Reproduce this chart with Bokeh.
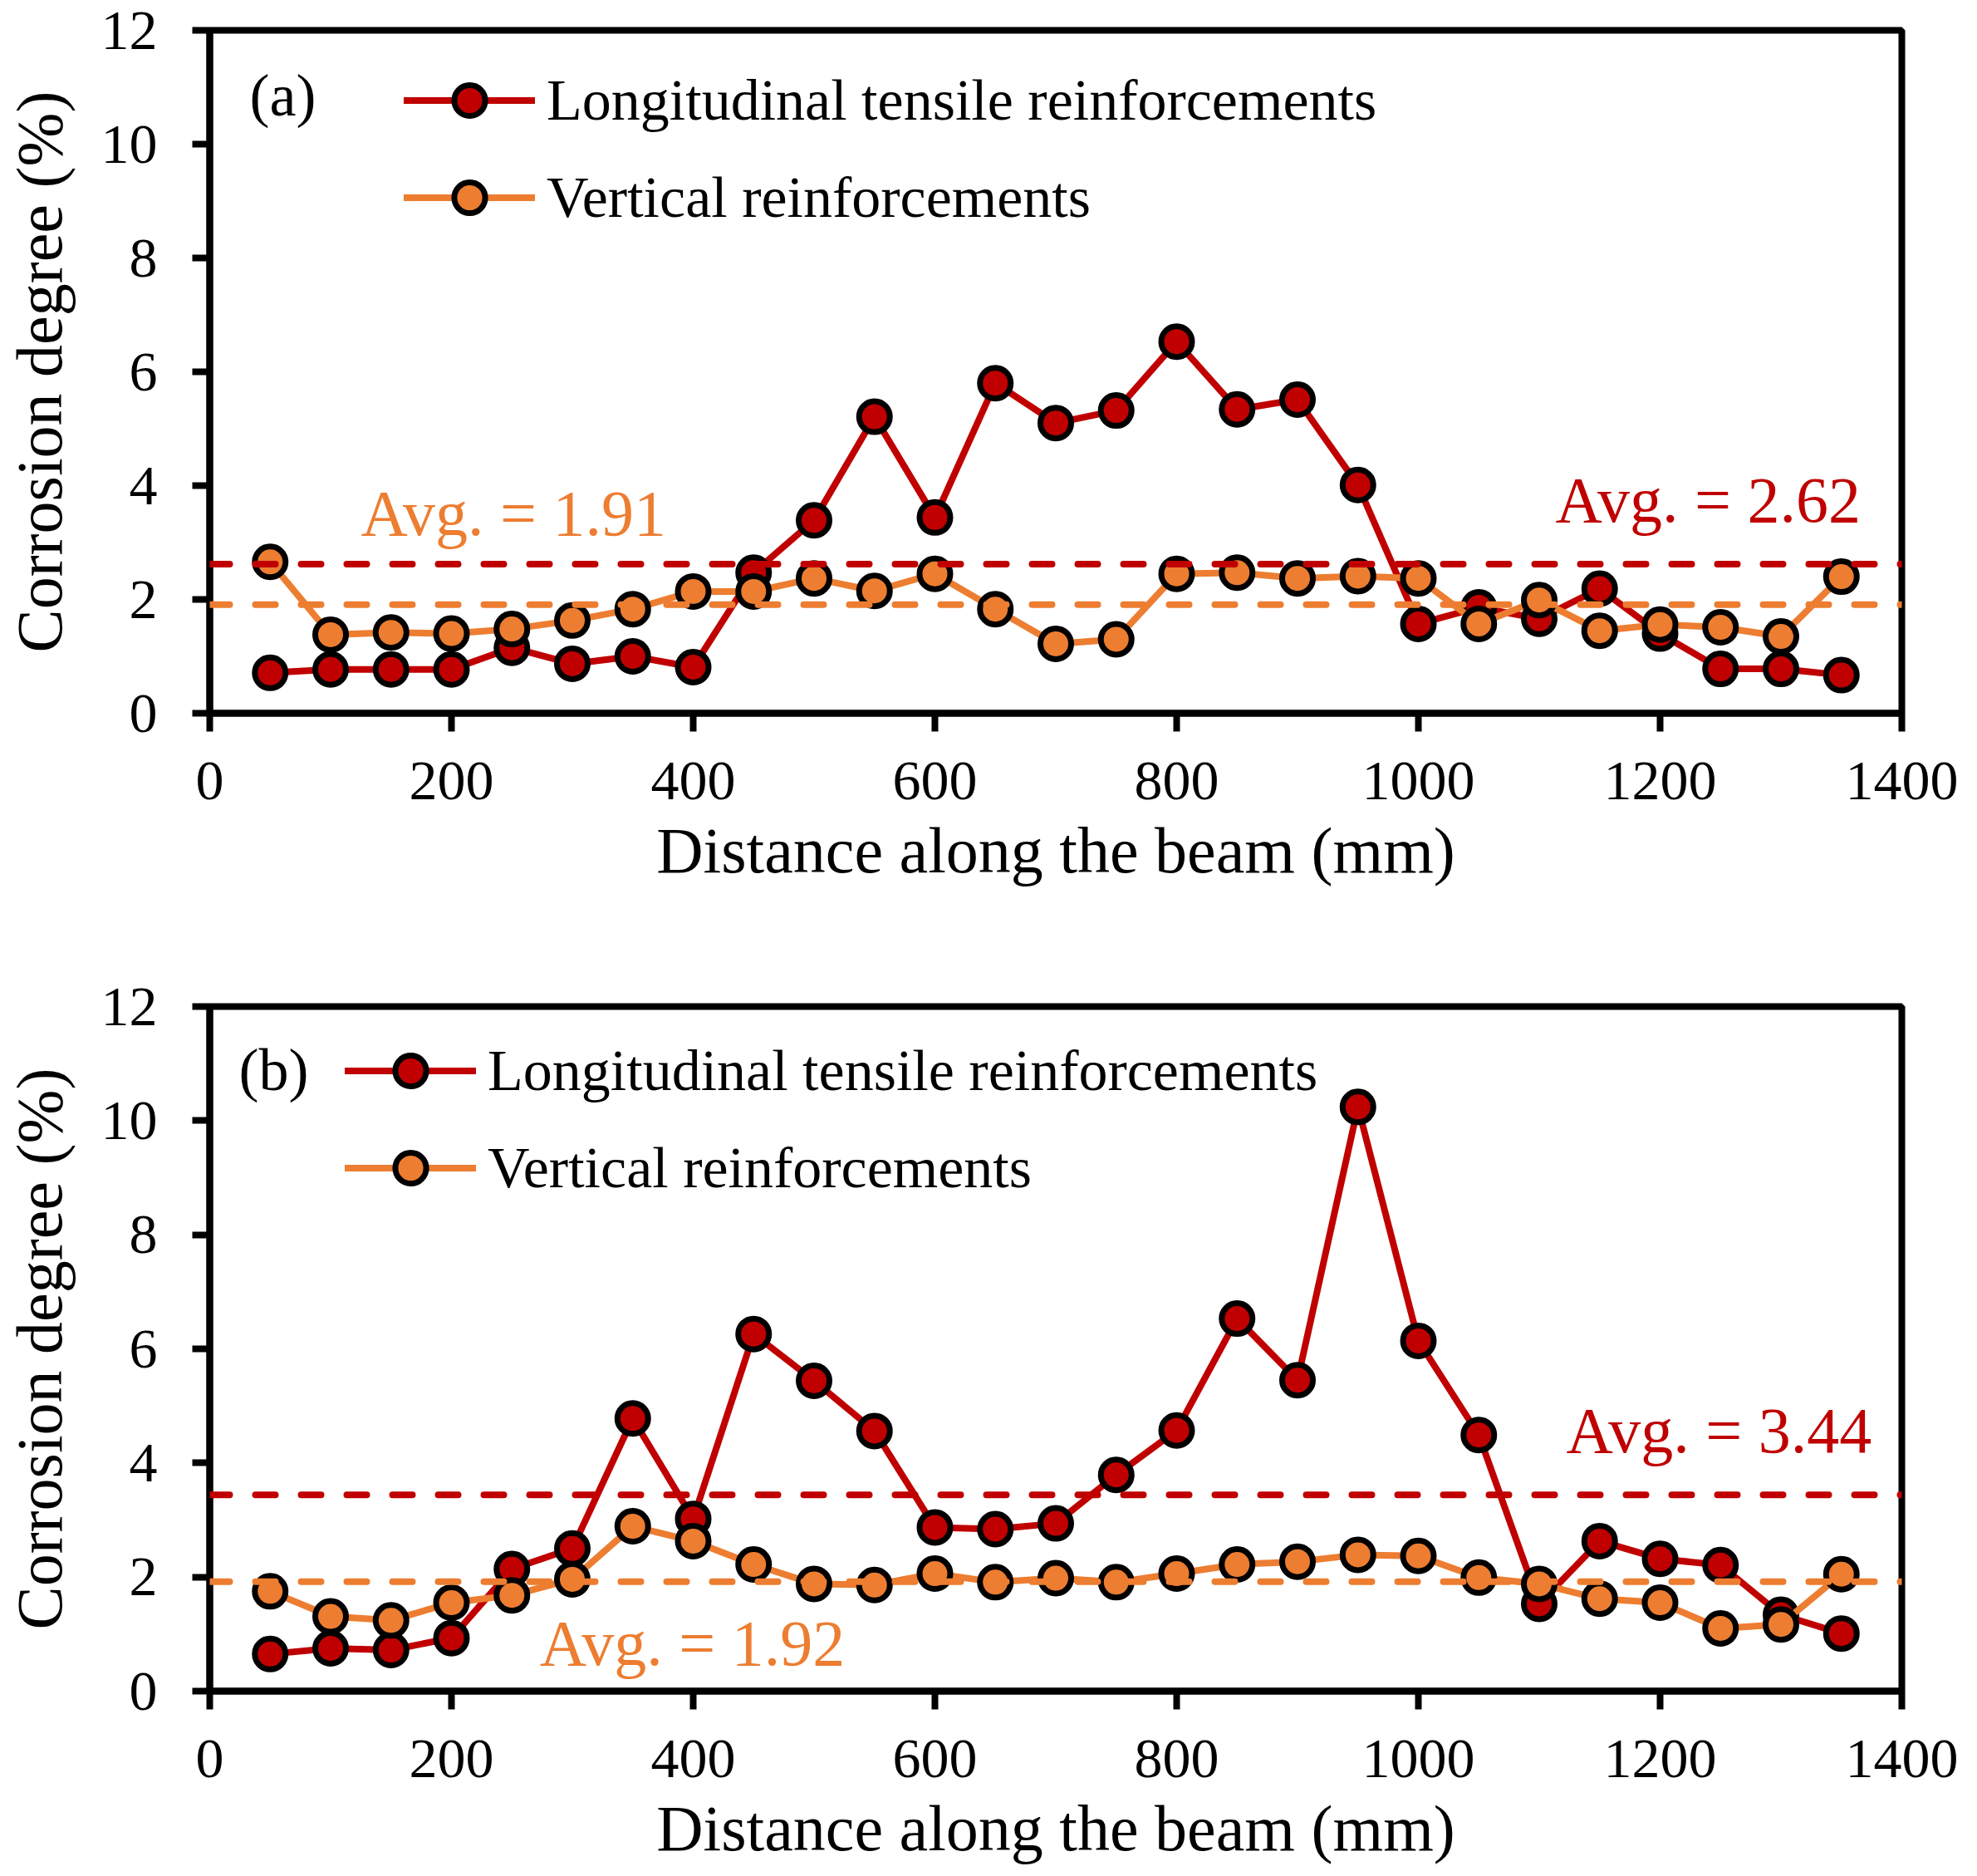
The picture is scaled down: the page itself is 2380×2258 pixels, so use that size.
from bokeh.plotting import figure
from bokeh.models import Span, Legend, LegendItem, FixedTicker, Range1d, Label
from bokeh.layouts import column
from bokeh.embed import file_html
from bokeh.resources import INLINE

# ---------------- data ----------------
distance = [50, 100, 150, 200, 250, 300, 350, 400, 450, 500, 550, 600, 650, 700,
            750, 800, 850, 900, 950, 1000, 1050, 1100, 1150, 1200, 1250, 1300, 1350]

a_longitudinal = [0.71, 0.77, 0.77, 0.77, 1.15, 0.87, 1.00, 0.81, 2.47, 3.39, 5.21, 3.44, 5.80, 5.10,
                  5.32, 6.53, 5.34, 5.51, 4.01, 1.57, 1.86, 1.66, 2.19, 1.40, 0.78, 0.78, 0.67]
a_vertical = [2.66, 1.38, 1.42, 1.40, 1.48, 1.63, 1.83, 2.14, 2.14, 2.37, 2.15, 2.45, 1.83, 1.22,
              1.30, 2.45, 2.47, 2.37, 2.41, 2.37, 1.57, 1.99, 1.45, 1.56, 1.51, 1.35, 2.40]

b_longitudinal = [0.65, 0.75, 0.72, 0.93, 2.14, 2.50, 4.78, 3.02, 6.26, 5.44, 4.56, 2.87, 2.84, 2.94,
                  3.79, 4.57, 6.53, 5.45, 10.24, 6.14, 4.49, 1.53, 2.63, 2.32, 2.21, 1.34, 1.01]
b_vertical = [1.75, 1.31, 1.24, 1.55, 1.68, 1.96, 2.89, 2.63, 2.22, 1.88, 1.86, 2.06, 1.91, 1.98,
              1.91, 2.06, 2.22, 2.27, 2.39, 2.37, 1.99, 1.88, 1.62, 1.55, 1.10, 1.17, 2.05]

avg_a = [2.62, 1.91]   # longitudinal, vertical
avg_b = [3.44, 1.92]

x_ticks = [0, 200, 400, 600, 800, 1000, 1200, 1400]
y_ticks = [0, 2, 4, 6, 8, 10, 12]

series_names = ["Longitudinal tensile reinforcements", "Vertical reinforcements"]
panel_tags = ["(a)", "(b)"]

RED = "#C00000"
ORANGE = "#ED7D31"
FONT = "Liberation Serif"


def make_panel(long_vals, vert_vals, avgs, tag, tag_xy, avg_long_xy, avg_vert_xy,
               legend_loc, border_top, frame_h, border_bottom):
    p = figure(frame_width=2037, frame_height=frame_h,
               x_range=Range1d(0, 1400), y_range=Range1d(0, 12),
               output_backend="svg", toolbar_location=None,
               min_border_left=249, min_border_right=90,
               min_border_top=border_top, min_border_bottom=border_bottom,
               background_fill_color="white", border_fill_color="white")
    p.grid.visible = False
    p.outline_line_color = "black"
    p.outline_line_width = 8
    p.outline_line_alpha = 1.0

    p.xaxis.ticker = FixedTicker(ticks=x_ticks)
    p.yaxis.ticker = FixedTicker(ticks=y_ticks)
    for ax in (p.xaxis, p.yaxis):
        ax.axis_line_width = 8
        ax.axis_line_color = "black"
        ax.major_tick_line_width = 8
        ax.major_tick_line_color = "black"
        ax.major_tick_in = 0
        ax.minor_tick_line_color = None
        ax.major_label_text_font = FONT
        ax.major_label_text_font_size = "68px"
        ax.major_label_text_color = "black"
        ax.axis_label_text_font = FONT
        ax.axis_label_text_font_size = "78px"
        ax.axis_label_text_font_style = "normal"
        ax.axis_label_text_color = "black"
    p.xaxis.major_tick_out = 22
    p.yaxis.major_tick_out = 21
    p.xaxis.major_label_standoff = 37
    p.yaxis.major_label_standoff = 42
    p.xaxis.axis_label = "Distance along the beam (mm)"
    p.yaxis.axis_label = "Corrosion degree (%)"
    p.xaxis.axis_label_standoff = 15
    p.yaxis.axis_label_standoff = 28

    l1 = p.line(distance, long_vals, line_color=RED, line_width=8,
                line_join="round", line_cap="round")
    s1 = p.scatter(distance, long_vals, size=37, fill_color=RED,
                   line_color="black", line_width=7)
    l2 = p.line(distance, vert_vals, line_color=ORANGE, line_width=8,
                line_join="round", line_cap="round")
    s2 = p.scatter(distance, vert_vals, size=37, fill_color=ORANGE,
                   line_color="black", line_width=7)

    p.add_layout(Span(location=avgs[0], dimension="width", line_color=RED,
                      line_width=8, line_dash="24 31", line_cap="round"))
    p.add_layout(Span(location=avgs[1], dimension="width", line_color=ORANGE,
                      line_width=8, line_dash="24 31", line_cap="round"))

    p.add_layout(Label(x=avg_long_xy[0], y=avg_long_xy[1], text="Avg. = %.2f" % avgs[0],
                       text_font=FONT, text_font_size="78px", text_color=RED,
                       text_align="right", text_baseline="alphabetic"))
    p.add_layout(Label(x=avg_vert_xy[0], y=avg_vert_xy[1], text="Avg. = %.2f" % avgs[1],
                       text_font=FONT, text_font_size="78px", text_color=ORANGE,
                       text_align="left", text_baseline="alphabetic"))
    p.add_layout(Label(x=tag_xy[0], y=tag_xy[1], text=tag,
                       text_font=FONT, text_font_size="72px", text_color="black",
                       text_align="left", text_baseline="alphabetic"))

    legend = Legend(items=[LegendItem(label=series_names[0], renderers=[l1, s1]),
                           LegendItem(label=series_names[1], renderers=[l2, s2])],
                    location=legend_loc, glyph_width=158, glyph_height=93,
                    label_height=93, spacing=24, padding=0, margin=0,
                    label_standoff=14, border_line_color=None,
                    background_fill_alpha=0,
                    label_text_font=FONT, label_text_font_size="70px",
                    label_text_color="black")
    p.add_layout(legend)
    return p


pa = make_panel(a_longitudinal, a_vertical, avg_a, panel_tags[0],
                (33, 10.86), (1366, 3.75), (125, 3.52),
                (234, 574), 36, 822, 250)
pb = make_panel(b_longitudinal, b_vertical, avg_b, panel_tags[1],
                (24, 10.89), (1375, 4.57), (273, 0.84),
                (163, 583), 103, 824, 215)

layout = column(pa, pb, spacing=0)
open("out.html", "w").write(file_html(layout, INLINE))
